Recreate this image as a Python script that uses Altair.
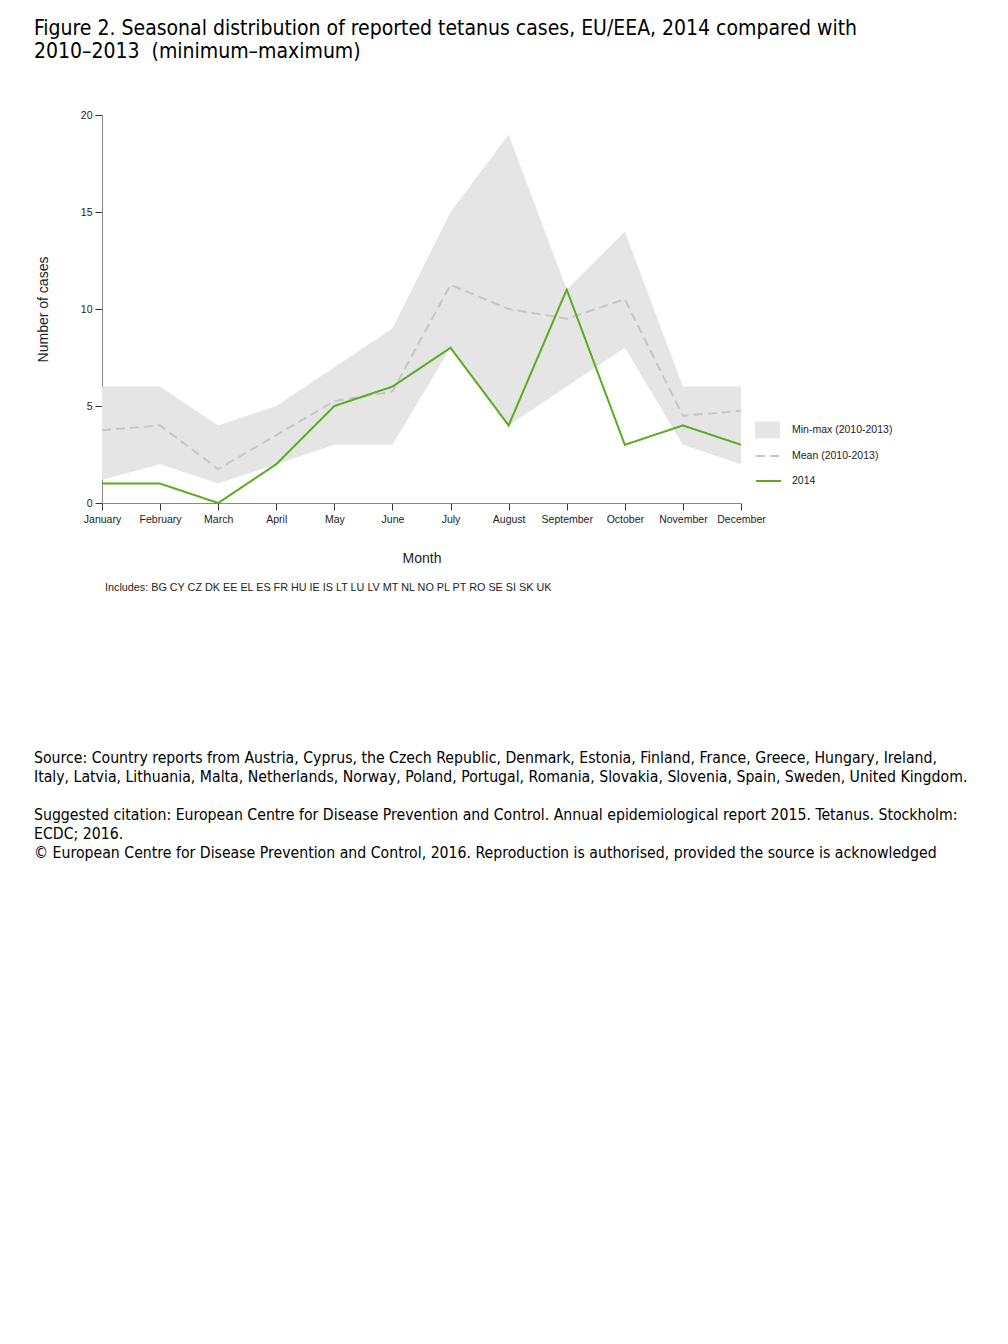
import altair as alt
import pandas as pd

months = ["January", "February", "March", "April", "May", "June", "July",
          "August", "September", "October", "November", "December"]
min_vals = [1.2, 2, 1, 2, 3, 3, 8, 4, 6, 8, 3, 2]
max_vals = [6, 6, 4, 5, 7, 9, 15, 19, 11, 14, 6, 6]
mean_vals = [3.75, 4.0, 1.75, 3.5, 5.25, 5.75, 11.25, 10.0, 9.5, 10.5, 4.5, 4.75]
cases_2014 = [1, 1, 0, 2, 5, 6, 8, 4, 11, 3, 4, 3]
y_ticks = [0, 5, 10, 15, 20]

band_name = "Min-max (2010-2013)"
mean_name = "Mean (2010-2013)"
cur_name = "2014"

title_lines = ["Figure 2. Seasonal distribution of reported tetanus cases, EU/EEA, 2014 compared with",
               "2010\u20132013\u00a0 (minimum\u2013maximum)"]
includes_text = "Includes: BG CY CZ DK EE EL ES FR HU IE IS LT LU LV MT NL NO PL PT RO SE SI SK UK"
source_lines = [
    "Source: Country reports from Austria, Cyprus, the Czech Republic, Denmark, Estonia, Finland, France, Greece, Hungary, Ireland,",
    "Italy, Latvia, Lithuania, Malta, Netherlands, Norway, Poland, Portugal, Romania, Slovakia, Slovenia, Spain, Sweden, United Kingdom.",
]
citation_lines = [
    "Suggested citation: European Centre for Disease Prevention and Control. Annual epidemiological report 2015. Tetanus. Stockholm:",
    "ECDC; 2016.",
    "\u00a9 European Centre for Disease Prevention and Control, 2016. Reproduction is authorised, provided the source is acknowledged",
]

AX_FONT = "Liberation Sans"
DOC_FONT = "DejaVu Sans Condensed, DejaVu Sans"

band_df = pd.DataFrame({"month": months, "lo": min_vals, "hi": max_vals, "band": band_name})
mean_df = pd.DataFrame({"month": months, "value": mean_vals, "series": mean_name})
cur_df = pd.DataFrame({"month": months, "value": cases_2014, "series": cur_name})
one = pd.DataFrame({"k": [0]})

x_enc = alt.X("month:O", sort=months,
              scale=alt.Scale(domain=months, padding=0),
              axis=alt.Axis(title="Month", labelAngle=0, tickSize=7, labelPadding=4,
                            domainColor="#8a8a8a", tickColor="#333333",
                            labelFont=AX_FONT, labelFontSize=10.5, labelColor="#222222",
                            titleFont=AX_FONT, titleFontSize=14, titleFontWeight="normal",
                            titleColor="#222222", titleY=59, titleBaseline="alphabetic",
                            grid=False))
y_scale = alt.Scale(domain=[0, 20], nice=False, zero=True)
y_axis = alt.Axis(values=y_ticks, title="Number of cases", tickSize=7, labelPadding=3,
                  domainColor="#8a8a8a", tickColor="#333333",
                  labelFont=AX_FONT, labelFontSize=10.5, labelColor="#222222",
                  titleFont=AX_FONT, titleFontSize=14, titleFontWeight="normal",
                  titleColor="#222222", titleX=-55, titleBaseline="alphabetic", grid=False)

leg_common = dict(title=None, orient="none", legendX=653, symbolSize=625,
                  labelFont=AX_FONT, labelFontSize=10.5, labelColor="#222222",
                  padding=0)

band = alt.Chart(band_df).mark_area(opacity=1).encode(
    x=x_enc,
    y=alt.Y("lo:Q", scale=y_scale, axis=y_axis),
    y2="hi:Q",
    fill=alt.Fill("band:N", scale=alt.Scale(domain=[band_name], range=["#e5e5e5"]),
                  legend=alt.Legend(legendY=302.5, symbolType="M-1,-0.68H1V0.68H-1Z",
                                    symbolStrokeWidth=0, symbolOpacity=1, labelOffset=12,
                                    rowPadding=0, **leg_common)),
)

line_leg = alt.Legend(legendY=327.5, symbolType="stroke", symbolStrokeWidth=2,
                      labelOffset=10, rowPadding=6, **leg_common)
stroke_scale = alt.Scale(domain=[mean_name, cur_name], range=["#c6c6c6", "#5aab1e"])
dash_scale = alt.Scale(domain=[mean_name, cur_name], range=[[9, 5], [1, 0]])

mean_line = alt.Chart(mean_df).mark_line(strokeWidth=2).encode(
    x=x_enc,
    y=alt.Y("value:Q", scale=y_scale),
    stroke=alt.Stroke("series:N", scale=stroke_scale, legend=line_leg),
    strokeDash=alt.StrokeDash("series:N", scale=dash_scale, legend=line_leg),
)
cur_line = alt.Chart(cur_df).mark_line(strokeWidth=2).encode(
    x=x_enc,
    y=alt.Y("value:Q", scale=y_scale),
    stroke=alt.Stroke("series:N", scale=stroke_scale, legend=line_leg),
    strokeDash=alt.StrokeDash("series:N", scale=dash_scale, legend=line_leg),
)

title_txt = alt.Chart(one).mark_text(
    text=title_lines, align="left", baseline="alphabetic", font=DOC_FONT,
    fontSize=21, lineHeight=22.5, color="#000000"
).encode(x=alt.value(-68), y=alt.value(-80))

includes_txt = alt.Chart(one).mark_text(
    text=includes_text, align="left", baseline="alphabetic", font=AX_FONT,
    fontSize=10.8, color="#222222"
).encode(x=alt.value(3), y=alt.value(476))

source_txt = alt.Chart(one).mark_text(
    text=source_lines, align="left", baseline="alphabetic", font=DOC_FONT,
    fontSize=15.7, lineHeight=19, color="#000000"
).encode(x=alt.value(-68), y=alt.value(648))

citation_txt = alt.Chart(one).mark_text(
    text=citation_lines, align="left", baseline="alphabetic", font=DOC_FONT,
    fontSize=15.7, lineHeight=19, color="#000000"
).encode(x=alt.value(-68), y=alt.value(705))

chart = alt.layer(band, mean_line, cur_line, title_txt, includes_txt, source_txt,
                  citation_txt).resolve_legend(
    fill="independent", stroke="shared", strokeDash="shared"
).properties(
    width=639, height=388,
    autosize=alt.AutoSizeParams(type="none"),
    padding={"left": 94, "top": 107, "right": 250, "bottom": 380},
).configure_view(stroke=None)

chart.save("out.html", embed_options={"renderer": "svg", "actions": False})
